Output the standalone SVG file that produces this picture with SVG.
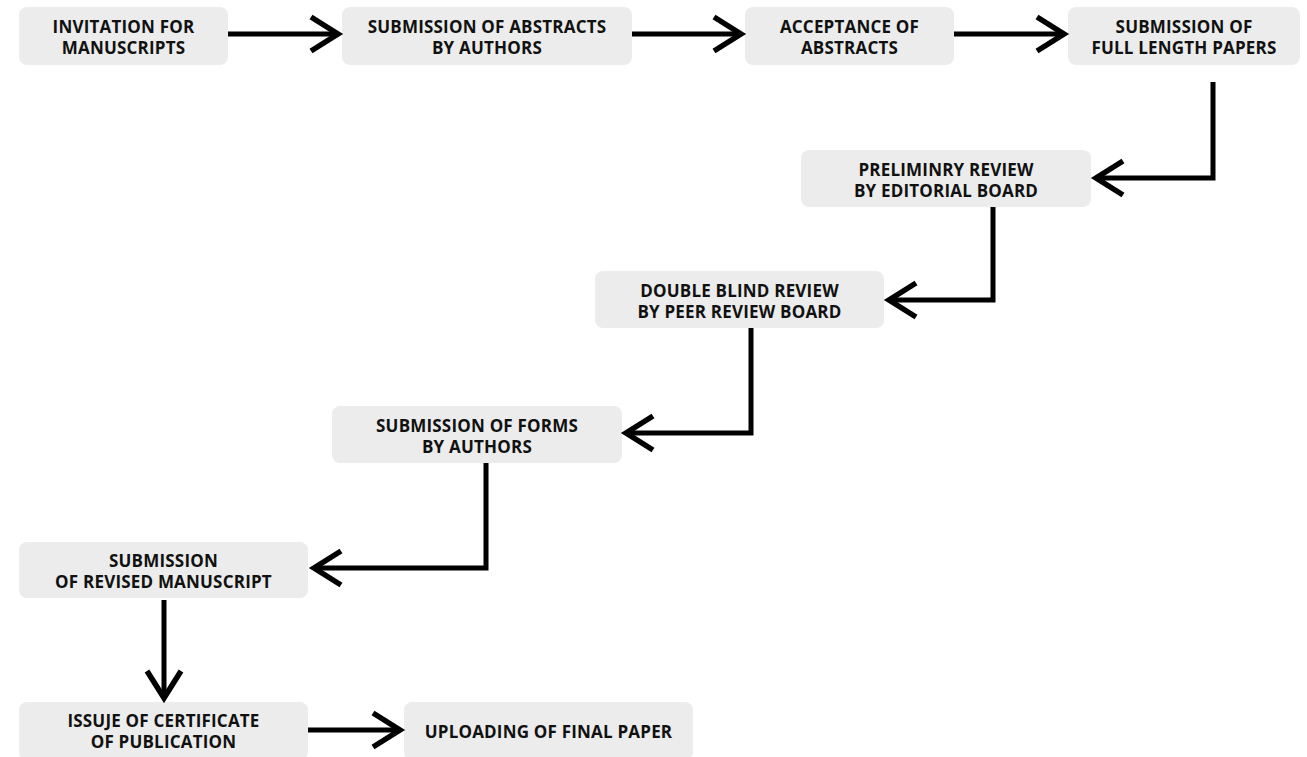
<svg xmlns="http://www.w3.org/2000/svg" width="1307" height="757" viewBox="0 0 1307 757">
<style>
.box{fill:#ebeceb;}
.t{font-family:"Open Sans","Noto Sans","Liberation Sans",sans-serif;font-weight:700;font-size:17px;letter-spacing:0.2px;fill:#111;text-anchor:middle;}
.c{fill:none;stroke:#000;stroke-width:5;stroke-linejoin:miter;}
</style>
<defs>
<marker id="arr" viewBox="-36 -24 44 48" markerWidth="44" markerHeight="48" refX="-6" refY="0" markerUnits="userSpaceOnUse" orient="auto">
<path d="M-31,-17 L-4,0 L-31,17" fill="none" stroke="#000" stroke-width="5.5" stroke-miterlimit="10"/>
</marker>
</defs>
<rect width="1307" height="757" fill="#fff"/>
<g id="n1"><rect class="box" x="19" y="7" width="209" height="58" rx="8"/><text class="t" x="123.5" y="33">INVITATION FOR</text><text class="t" x="123.5" y="54">MANUSCRIPTS</text></g>
<g id="n2"><rect class="box" x="342" y="7" width="290" height="58" rx="8"/><text class="t" x="487" y="33">SUBMISSION OF ABSTRACTS</text><text class="t" x="487" y="54">BY AUTHORS</text></g>
<g id="n3"><rect class="box" x="745" y="7" width="209" height="58" rx="8"/><text class="t" x="849.5" y="33">ACCEPTANCE OF</text><text class="t" x="849.5" y="54">ABSTRACTS</text></g>
<g id="n4"><rect class="box" x="1068" y="7" width="232" height="58" rx="8"/><text class="t" x="1184" y="33">SUBMISSION OF</text><text class="t" x="1184" y="54">FULL LENGTH PAPERS</text></g>
<g id="n5"><rect class="box" x="801" y="150" width="290" height="57" rx="8"/><text class="t" x="946" y="175.5">PRELIMINRY REVIEW</text><text class="t" x="946" y="196.5">BY EDITORIAL BOARD</text></g>
<g id="n6"><rect class="box" x="595" y="271" width="289" height="57" rx="8"/><text class="t" x="739.5" y="296.5">DOUBLE BLIND REVIEW</text><text class="t" x="739.5" y="317.5">BY PEER REVIEW BOARD</text></g>
<g id="n7"><rect class="box" x="332" y="406" width="290" height="57" rx="8"/><text class="t" x="477" y="431.5">SUBMISSION OF FORMS</text><text class="t" x="477" y="452.5">BY AUTHORS</text></g>
<g id="n8"><rect class="box" x="19" y="542" width="289" height="56" rx="8"/><text class="t" x="163.5" y="567">SUBMISSION</text><text class="t" x="163.5" y="588">OF REVISED MANUSCRIPT</text></g>
<g id="n9"><rect class="box" x="19" y="702" width="289" height="58" rx="8"/><text class="t" x="163.5" y="727">ISSUJE OF CERTIFICATE</text><text class="t" x="163.5" y="748">OF PUBLICATION</text></g>
<g id="n10"><rect class="box" x="404" y="702" width="289" height="58" rx="8"/><text class="t" x="548.5" y="738">UPLOADING OF FINAL PAPER</text></g>
<g id="connectors">
<path class="c" marker-end="url(#arr)" d="M228,34 H336"/>
<path class="c" marker-end="url(#arr)" d="M632,34 H739"/>
<path class="c" marker-end="url(#arr)" d="M954,34 H1062"/>
<path class="c" marker-end="url(#arr)" d="M1213,82 V178 H1098"/>
<path class="c" marker-end="url(#arr)" d="M993,207 V300 H891"/>
<path class="c" marker-end="url(#arr)" d="M751,328 V433 H628"/>
<path class="c" marker-end="url(#arr)" d="M486,463 V568 H316"/>
<path class="c" marker-end="url(#arr)" d="M164,600 V696"/>
<path class="c" marker-end="url(#arr)" d="M308,730 H398"/>
</g>
</svg>
